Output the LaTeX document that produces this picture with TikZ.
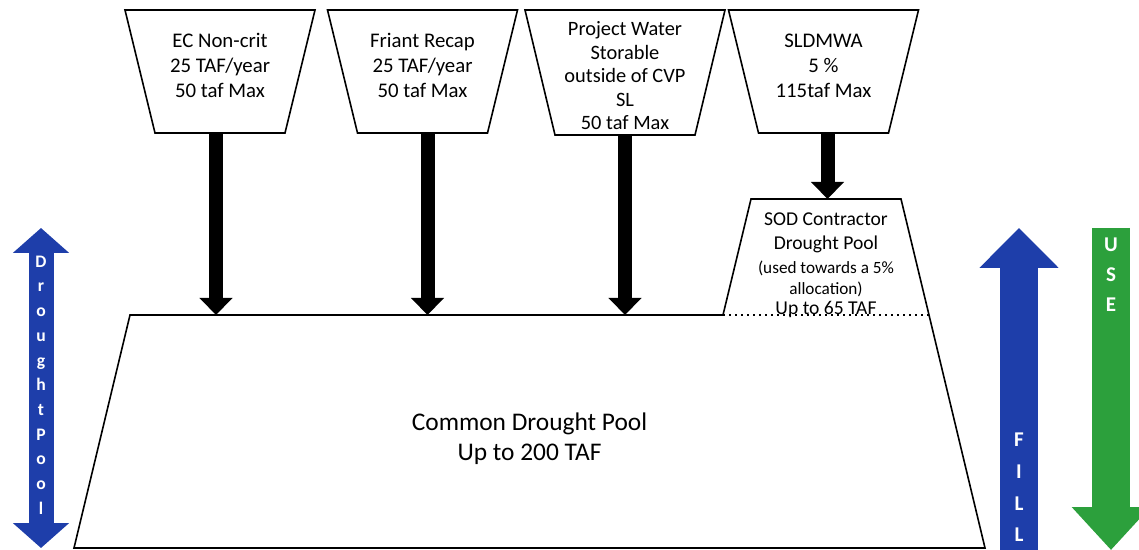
\documentclass[tikz,border=0pt]{standalone}
\usepackage{fontspec}
\setmainfont{Carlito}
\usepackage{tikz}
\usetikzlibrary{
  arrows.meta
}
\definecolor{poolblue}{RGB}{30,62,170}
\definecolor{usegreen}{RGB}{44,160,60}
\tikzset{
  srcbox/.style={minimum width=65pt, minimum height=61.5pt,
    inner sep=0pt, outer sep=0pt},
  srctext/.style={inner sep=0pt, align=center,
    font=\fontsize{10.4}{12.5}\selectfont},
  poolbox/.style={inner sep=0pt, outer sep=0pt},
  pooltext/.style={inner sep=0pt, align=center},
  outline/.style={line width=0.8pt},
  arr/.style={-{Triangle[width=16pt,length=8.5pt]}, line width=7pt},
  vlabel/.style={text=white, align=center, inner sep=0pt},
}

\begin{document}
\begin{tikzpicture}[x=0.5pt, y=-0.5pt]
  \useasboundingbox (0,0) rectangle (1139,550);

  % Top: contributing sources (narrow side down)
  \node[srcbox] (ec) at (220,71.5) {};
  \node[srctext] (ectext) at ([yshift=3pt]ec.center)
    {EC Non-crit\\25 TAF/year\\50 taf Max};
  \node[srcbox] (friant) at (422.5,71.5) {};
  \node[srctext] (friantext) at ([yshift=3pt]friant.center)
    {Friant Recap\\25 TAF/year\\50 taf Max};
  \node[srcbox, minimum width=70pt, minimum height=62.5pt] (projw) at (625,72.5) {};
  \node[srctext, font=\fontsize{10.2}{11.75}\selectfont] (projwtext)
    at ([yshift=-1.75pt]projw.center)
    {Project Water\\Storable\\outside of CVP\\SL\\50 taf Max};
  \node[srcbox] (sldmwa) at (823.5,71.5) {};
  \node[srctext] (sldmwatext) at ([yshift=3pt]sldmwa.center)
    {SLDMWA\\5 \%\\115taf Max};

  \foreach \n in {ec,friant,projw,sldmwa}
    \draw[outline] ([xshift=-15pt]\n.north west) -- ([xshift=15pt]\n.north east)
      -- (\n.south east) -- (\n.south west) -- cycle;

  % Bottom: common pool
  \node[poolbox, minimum width=399.5pt, minimum height=116.5pt] (pool) at (529.5,431.5) {};
  \node[pooltext, font=\fontsize{12.7}{15}\selectfont] (pooltxt)
    at ([yshift=-3.5pt]pool.center)
    {Common Drought Pool\\Up to 200 TAF};

  % SOD pool, sitting on the common pool
  \node[poolbox, minimum width=75pt, minimum height=58pt] (sod) at (826,257) {};
  \node[pooltext, font=\fontsize{9.8}{12}\selectfont] (sodtxt)
    at ([yshift=-4pt]sod.center)
    {SOD Contractor\\Drought Pool\\
     {\fontsize{8.6}{10.5}\selectfont (used towards a 5\%}\\[-1.5pt]
     {\fontsize{8.6}{10.5}\selectfont allocation)}\\[-2pt]
     Up to 65 TAF};

  \draw[outline] ([xshift=-14pt]sod.south west) -- (sod.north west)
    -- (sod.north east) -- ([xshift=14pt]sod.south east);
  \draw[outline] ([xshift=-14pt]sod.south west) -- (pool.north west)
    -- ([xshift=-28pt]pool.south west) -- ([xshift=28pt]pool.south east)
    -- (pool.north east);
  \draw[dotted, line width=1pt] ([xshift=-14pt]sod.south west) -- (pool.north east);

  \draw[arr] ([xshift=-2pt]ec.south) -- ([xshift=-2pt]ec.south |- pool.north);
  \draw[arr] ([xshift=2.5pt]friant.south) -- ([xshift=2.5pt]friant.south |- pool.north);
  \draw[arr] (projw.south) -- (projw.south |- pool.north);
  \draw[arr] ([xshift=2pt]sldmwa.south) -- ([xshift=2pt]sldmwa.south |- sod.north);

  % Side arrows
  \coordinate (dtop) at (41,228);
  \coordinate (dbot) at (41,548);
  \draw[poolblue, line width=12.5pt,
        {Triangle[width=27.5pt,length=12.5pt]}-{Triangle[width=27.5pt,length=12.5pt]}]
    (dbot) -- (dtop);
  \node[vlabel, font=\bfseries\fontsize{8.8}{12.35}\selectfont] (dplabel) at (41,385)
    {D\\r\\o\\u\\g\\h\\t\\P\\o\\o\\l};

  \coordinate (ftop) at (1019,228);
  \coordinate (fbot) at (1019,550);
  \draw[poolblue, line width=19pt, -{Triangle[width=38.5pt,length=20pt]}]
    (fbot) -- (ftop);
  \node[vlabel, font=\bfseries\fontsize{10.5}{15.8}\selectfont] (filllabel) at (1019,487.5)
    {F\\I\\L\\L};

  \coordinate (utop) at (1111,228);
  \coordinate (ubot) at (1111,550);
  \draw[usegreen, line width=19pt, -{Triangle[width=38pt,length=21.5pt]}]
    (utop) -- (ubot);
  \node[vlabel, font=\bfseries\fontsize{10.5}{15}\selectfont] (uselabel) at (1111,275)
    {U\\S\\E};
\end{tikzpicture}
\end{document}
